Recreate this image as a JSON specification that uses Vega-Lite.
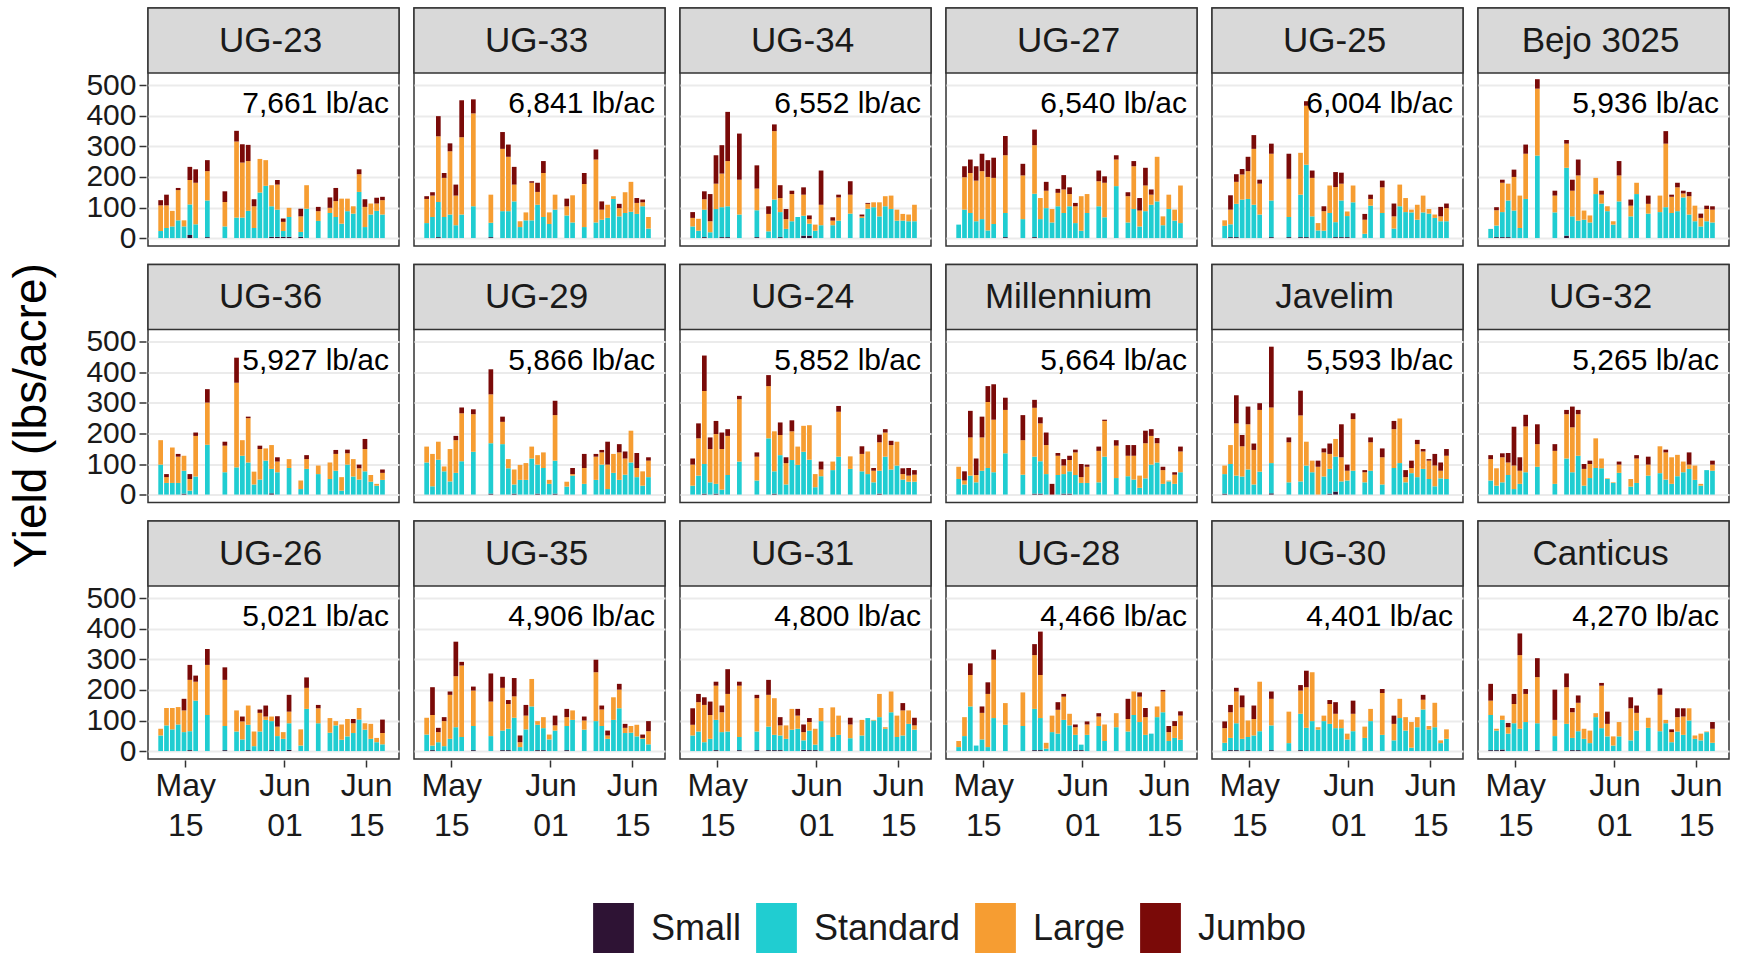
{
"$schema": "https://vega.github.io/schema/vega-lite/v6.json",
"background": "white",
"padding": {"left": 8, "top": 5, "right": 5, "bottom": 0},
"title": {"text": "Yield (lbs/acre)", "orient": "left", "anchor": "middle", "fontSize": 46, "fontWeight": "normal", "color": "#000000", "offset": 30, "dx": 64},
"data": {"values": [
{"cv":"UG-23","total":"7,661 lb/ac"},{"cv":"UG-33","total":"6,841 lb/ac"},{"cv":"UG-34","total":"6,552 lb/ac"},{"cv":"UG-27","total":"6,540 lb/ac"},{"cv":"UG-25","total":"6,004 lb/ac"},{"cv":"Bejo 3025","total":"5,936 lb/ac"},
{"cv":"UG-36","total":"5,927 lb/ac"},{"cv":"UG-29","total":"5,866 lb/ac"},{"cv":"UG-24","total":"5,852 lb/ac"},{"cv":"Millennium","total":"5,664 lb/ac"},{"cv":"Javelim","total":"5,593 lb/ac"},{"cv":"UG-32","total":"5,265 lb/ac"},
{"cv":"UG-26","total":"5,021 lb/ac"},{"cv":"UG-35","total":"4,906 lb/ac"},{"cv":"UG-31","total":"4,800 lb/ac"},{"cv":"UG-28","total":"4,466 lb/ac"},{"cv":"UG-30","total":"4,401 lb/ac"},{"cv":"Canticus","total":"4,270 lb/ac"},
{"cv":"UG-23","date":"2019-05-11","s1":0,"s2":23,"s3":84,"s4":17},
{"cv":"UG-23","date":"2019-05-12","s1":0,"s2":33,"s3":74,"s4":35},
{"cv":"UG-23","date":"2019-05-13","s1":0,"s2":38,"s3":51,"s4":0},
{"cv":"UG-23","date":"2019-05-14","s1":0,"s2":58,"s3":99,"s4":7},
{"cv":"UG-23","date":"2019-05-15","s1":0,"s2":38,"s3":20,"s4":0},
{"cv":"UG-23","date":"2019-05-16","s1":10,"s2":100,"s3":80,"s4":43},
{"cv":"UG-23","date":"2019-05-17","s1":0,"s2":45,"s3":136,"s4":44},
{"cv":"UG-23","date":"2019-05-19","s1":3,"s2":120,"s3":96,"s4":36},
{"cv":"UG-23","date":"2019-05-22","s1":0,"s2":38,"s3":80,"s4":35},
{"cv":"UG-23","date":"2019-05-24","s1":0,"s2":67,"s3":249,"s4":35},
{"cv":"UG-23","date":"2019-05-25","s1":0,"s2":67,"s3":180,"s4":60},
{"cv":"UG-23","date":"2019-05-26","s1":0,"s2":89,"s3":163,"s4":53},
{"cv":"UG-23","date":"2019-05-27","s1":0,"s2":33,"s3":71,"s4":23},
{"cv":"UG-23","date":"2019-05-28","s1":0,"s2":149,"s3":110,"s4":0},
{"cv":"UG-23","date":"2019-05-29","s1":0,"s2":171,"s3":84,"s4":0},
{"cv":"UG-23","date":"2019-05-30","s1":4,"s2":100,"s3":69,"s4":0},
{"cv":"UG-23","date":"2019-05-31","s1":4,"s2":89,"s3":82,"s4":15},
{"cv":"UG-23","date":"2019-06-01","s1":4,"s2":19,"s3":30,"s4":11},
{"cv":"UG-23","date":"2019-06-02","s1":4,"s2":65,"s3":30,"s4":0},
{"cv":"UG-23","date":"2019-06-04","s1":4,"s2":16,"s3":51,"s4":25},
{"cv":"UG-23","date":"2019-06-05","s1":0,"s2":96,"s3":77,"s4":0},
{"cv":"UG-23","date":"2019-06-07","s1":0,"s2":56,"s3":32,"s4":14},
{"cv":"UG-23","date":"2019-06-09","s1":0,"s2":82,"s3":17,"s4":34},
{"cv":"UG-23","date":"2019-06-10","s1":0,"s2":69,"s3":52,"s4":43},
{"cv":"UG-23","date":"2019-06-11","s1":0,"s2":47,"s3":82,"s4":0},
{"cv":"UG-23","date":"2019-06-12","s1":0,"s2":88,"s3":41,"s4":0},
{"cv":"UG-23","date":"2019-06-13","s1":0,"s2":80,"s3":24,"s4":0},
{"cv":"UG-23","date":"2019-06-14","s1":0,"s2":151,"s3":58,"s4":16},
{"cv":"UG-23","date":"2019-06-15","s1":0,"s2":36,"s3":66,"s4":25},
{"cv":"UG-23","date":"2019-06-16","s1":0,"s2":77,"s3":36,"s4":0},
{"cv":"UG-23","date":"2019-06-17","s1":0,"s2":89,"s3":24,"s4":19},
{"cv":"UG-23","date":"2019-06-18","s1":0,"s2":77,"s3":47,"s4":11},
{"cv":"UG-33","date":"2019-05-11","s1":0,"s2":49,"s3":79,"s4":9},
{"cv":"UG-33","date":"2019-05-12","s1":0,"s2":69,"s3":70,"s4":11},
{"cv":"UG-33","date":"2019-05-13","s1":3,"s2":115,"s3":215,"s4":66},
{"cv":"UG-33","date":"2019-05-14","s1":0,"s2":69,"s3":128,"s4":16},
{"cv":"UG-33","date":"2019-05-15","s1":0,"s2":77,"s3":207,"s4":26},
{"cv":"UG-33","date":"2019-05-16","s1":0,"s2":42,"s3":97,"s4":36},
{"cv":"UG-33","date":"2019-05-17","s1":0,"s2":77,"s3":253,"s4":121},
{"cv":"UG-33","date":"2019-05-19","s1":0,"s2":104,"s3":304,"s4":46},
{"cv":"UG-33","date":"2019-05-22","s1":3,"s2":47,"s3":92,"s4":0},
{"cv":"UG-33","date":"2019-05-24","s1":0,"s2":88,"s3":204,"s4":55},
{"cv":"UG-33","date":"2019-05-25","s1":0,"s2":88,"s3":178,"s4":40},
{"cv":"UG-33","date":"2019-05-26","s1":0,"s2":120,"s3":55,"s4":58},
{"cv":"UG-33","date":"2019-05-27","s1":0,"s2":36,"s3":19,"s4":0},
{"cv":"UG-33","date":"2019-05-28","s1":0,"s2":58,"s3":26,"s4":0},
{"cv":"UG-33","date":"2019-05-29","s1":0,"s2":58,"s3":123,"s4":5},
{"cv":"UG-33","date":"2019-05-30","s1":0,"s2":109,"s3":42,"s4":30},
{"cv":"UG-33","date":"2019-05-31","s1":0,"s2":69,"s3":144,"s4":39},
{"cv":"UG-33","date":"2019-06-01","s1":0,"s2":46,"s3":38,"s4":0},
{"cv":"UG-33","date":"2019-06-02","s1":0,"s2":93,"s3":49,"s4":0},
{"cv":"UG-33","date":"2019-06-04","s1":0,"s2":74,"s3":30,"s4":25},
{"cv":"UG-33","date":"2019-06-05","s1":0,"s2":51,"s3":89,"s4":0},
{"cv":"UG-33","date":"2019-06-07","s1":0,"s2":36,"s3":141,"s4":36},
{"cv":"UG-33","date":"2019-06-09","s1":0,"s2":51,"s3":206,"s4":33},
{"cv":"UG-33","date":"2019-06-10","s1":0,"s2":60,"s3":33,"s4":27},
{"cv":"UG-33","date":"2019-06-11","s1":0,"s2":66,"s3":43,"s4":0},
{"cv":"UG-33","date":"2019-06-12","s1":0,"s2":128,"s3":9,"s4":0},
{"cv":"UG-33","date":"2019-06-13","s1":0,"s2":71,"s3":27,"s4":14},
{"cv":"UG-33","date":"2019-06-14","s1":0,"s2":82,"s3":68,"s4":0},
{"cv":"UG-33","date":"2019-06-15","s1":0,"s2":86,"s3":98,"s4":0},
{"cv":"UG-33","date":"2019-06-16","s1":0,"s2":79,"s3":36,"s4":16},
{"cv":"UG-33","date":"2019-06-17","s1":0,"s2":104,"s3":13,"s4":9},
{"cv":"UG-33","date":"2019-06-18","s1":0,"s2":31,"s3":38,"s4":0},
{"cv":"UG-34","date":"2019-05-11","s1":0,"s2":38,"s3":28,"s4":19},
{"cv":"UG-34","date":"2019-05-12","s1":0,"s2":24,"s3":39,"s4":0},
{"cv":"UG-34","date":"2019-05-13","s1":3,"s2":90,"s3":34,"s4":26},
{"cv":"UG-34","date":"2019-05-14","s1":0,"s2":19,"s3":36,"s4":89},
{"cv":"UG-34","date":"2019-05-15","s1":0,"s2":95,"s3":83,"s4":93},
{"cv":"UG-34","date":"2019-05-16","s1":3,"s2":98,"s3":110,"s4":93},
{"cv":"UG-34","date":"2019-05-17","s1":3,"s2":101,"s3":148,"s4":161},
{"cv":"UG-34","date":"2019-05-19","s1":0,"s2":77,"s3":114,"s4":151},
{"cv":"UG-34","date":"2019-05-22","s1":3,"s2":88,"s3":71,"s4":76},
{"cv":"UG-34","date":"2019-05-24","s1":0,"s2":22,"s3":57,"s4":25},
{"cv":"UG-34","date":"2019-05-25","s1":0,"s2":126,"s3":224,"s4":22},
{"cv":"UG-34","date":"2019-05-26","s1":3,"s2":82,"s3":46,"s4":42},
{"cv":"UG-34","date":"2019-05-27","s1":0,"s2":30,"s3":32,"s4":33},
{"cv":"UG-34","date":"2019-05-28","s1":0,"s2":55,"s3":89,"s4":11},
{"cv":"UG-34","date":"2019-05-29","s1":0,"s2":69,"s3":0,"s4":0},
{"cv":"UG-34","date":"2019-05-30","s1":8,"s2":65,"s3":69,"s4":24},
{"cv":"UG-34","date":"2019-05-31","s1":8,"s2":39,"s3":15,"s4":12},
{"cv":"UG-34","date":"2019-06-01","s1":0,"s2":24,"s3":20,"s4":0},
{"cv":"UG-34","date":"2019-06-02","s1":0,"s2":42,"s3":67,"s4":112},
{"cv":"UG-34","date":"2019-06-04","s1":0,"s2":42,"s3":15,"s4":11},
{"cv":"UG-34","date":"2019-06-05","s1":0,"s2":57,"s3":76,"s4":9},
{"cv":"UG-34","date":"2019-06-07","s1":0,"s2":80,"s3":62,"s4":44},
{"cv":"UG-34","date":"2019-06-09","s1":0,"s2":66,"s3":5,"s4":6},
{"cv":"UG-34","date":"2019-06-10","s1":0,"s2":96,"s3":16,"s4":3},
{"cv":"UG-34","date":"2019-06-11","s1":0,"s2":101,"s3":16,"s4":0},
{"cv":"UG-34","date":"2019-06-12","s1":0,"s2":71,"s3":46,"s4":0},
{"cv":"UG-34","date":"2019-06-13","s1":0,"s2":104,"s3":33,"s4":0},
{"cv":"UG-34","date":"2019-06-14","s1":0,"s2":95,"s3":44,"s4":0},
{"cv":"UG-34","date":"2019-06-15","s1":0,"s2":57,"s3":36,"s4":0},
{"cv":"UG-34","date":"2019-06-16","s1":0,"s2":57,"s3":22,"s4":0},
{"cv":"UG-34","date":"2019-06-17","s1":0,"s2":55,"s3":22,"s4":0},
{"cv":"UG-34","date":"2019-06-18","s1":0,"s2":55,"s3":54,"s4":0},
{"cv":"UG-27","date":"2019-05-11","s1":0,"s2":44,"s3":0,"s4":0},
{"cv":"UG-27","date":"2019-05-12","s1":0,"s2":93,"s3":106,"s4":36},
{"cv":"UG-27","date":"2019-05-13","s1":0,"s2":82,"s3":131,"s4":44},
{"cv":"UG-27","date":"2019-05-14","s1":0,"s2":55,"s3":133,"s4":47},
{"cv":"UG-27","date":"2019-05-15","s1":0,"s2":62,"s3":157,"s4":57},
{"cv":"UG-27","date":"2019-05-16","s1":0,"s2":25,"s3":175,"s4":55},
{"cv":"UG-27","date":"2019-05-17","s1":0,"s2":46,"s3":151,"s4":66},
{"cv":"UG-27","date":"2019-05-19","s1":3,"s2":79,"s3":189,"s4":63},
{"cv":"UG-27","date":"2019-05-22","s1":0,"s2":62,"s3":143,"s4":38},
{"cv":"UG-27","date":"2019-05-24","s1":3,"s2":142,"s3":159,"s4":51},
{"cv":"UG-27","date":"2019-05-25","s1":0,"s2":62,"s3":69,"s4":0},
{"cv":"UG-27","date":"2019-05-26","s1":0,"s2":98,"s3":57,"s4":29},
{"cv":"UG-27","date":"2019-05-27","s1":0,"s2":51,"s3":44,"s4":0},
{"cv":"UG-27","date":"2019-05-28","s1":0,"s2":104,"s3":44,"s4":13},
{"cv":"UG-27","date":"2019-05-29","s1":0,"s2":82,"s3":77,"s4":47},
{"cv":"UG-27","date":"2019-05-30","s1":0,"s2":104,"s3":40,"s4":22},
{"cv":"UG-27","date":"2019-05-31","s1":0,"s2":49,"s3":55,"s4":11},
{"cv":"UG-27","date":"2019-06-01","s1":0,"s2":24,"s3":113,"s4":0},
{"cv":"UG-27","date":"2019-06-02","s1":0,"s2":82,"s3":62,"s4":0},
{"cv":"UG-27","date":"2019-06-04","s1":0,"s2":104,"s3":82,"s4":35},
{"cv":"UG-27","date":"2019-06-05","s1":0,"s2":68,"s3":113,"s4":21},
{"cv":"UG-27","date":"2019-06-07","s1":0,"s2":170,"s3":87,"s4":14},
{"cv":"UG-27","date":"2019-06-09","s1":0,"s2":51,"s3":86,"s4":13},
{"cv":"UG-27","date":"2019-06-10","s1":0,"s2":95,"s3":140,"s4":17},
{"cv":"UG-27","date":"2019-06-11","s1":0,"s2":38,"s3":52,"s4":41},
{"cv":"UG-27","date":"2019-06-12","s1":0,"s2":88,"s3":84,"s4":58},
{"cv":"UG-27","date":"2019-06-13","s1":0,"s2":109,"s3":33,"s4":17},
{"cv":"UG-27","date":"2019-06-14","s1":0,"s2":120,"s3":146,"s4":0},
{"cv":"UG-27","date":"2019-06-15","s1":0,"s2":42,"s3":29,"s4":0},
{"cv":"UG-27","date":"2019-06-16","s1":0,"s2":95,"s3":47,"s4":0},
{"cv":"UG-27","date":"2019-06-17","s1":0,"s2":57,"s3":36,"s4":0},
{"cv":"UG-27","date":"2019-06-18","s1":0,"s2":49,"s3":123,"s4":0},
{"cv":"UG-25","date":"2019-05-11","s1":0,"s2":40,"s3":18,"s4":0},
{"cv":"UG-25","date":"2019-05-12","s1":3,"s2":42,"s3":48,"s4":47},
{"cv":"UG-25","date":"2019-05-13","s1":3,"s2":109,"s3":72,"s4":25},
{"cv":"UG-25","date":"2019-05-14","s1":0,"s2":126,"s3":82,"s4":18},
{"cv":"UG-25","date":"2019-05-15","s1":0,"s2":128,"s3":91,"s4":47},
{"cv":"UG-25","date":"2019-05-16","s1":0,"s2":109,"s3":183,"s4":45},
{"cv":"UG-25","date":"2019-05-17","s1":0,"s2":77,"s3":101,"s4":13},
{"cv":"UG-25","date":"2019-05-19","s1":3,"s2":120,"s3":153,"s4":33},
{"cv":"UG-25","date":"2019-05-22","s1":3,"s2":66,"s3":125,"s4":82},
{"cv":"UG-25","date":"2019-05-24","s1":3,"s2":139,"s3":137,"s4":0},
{"cv":"UG-25","date":"2019-05-25","s1":3,"s2":237,"s3":193,"s4":15},
{"cv":"UG-25","date":"2019-05-26","s1":0,"s2":71,"s3":126,"s4":24},
{"cv":"UG-25","date":"2019-05-27","s1":0,"s2":25,"s3":24,"s4":0},
{"cv":"UG-25","date":"2019-05-28","s1":0,"s2":24,"s3":64,"s4":16},
{"cv":"UG-25","date":"2019-05-29","s1":0,"s2":82,"s3":90,"s4":0},
{"cv":"UG-25","date":"2019-05-30","s1":3,"s2":49,"s3":115,"s4":49},
{"cv":"UG-25","date":"2019-05-31","s1":3,"s2":120,"s3":55,"s4":36},
{"cv":"UG-25","date":"2019-06-01","s1":3,"s2":69,"s3":15,"s4":0},
{"cv":"UG-25","date":"2019-06-02","s1":0,"s2":117,"s3":55,"s4":0},
{"cv":"UG-25","date":"2019-06-04","s1":0,"s2":14,"s3":46,"s4":19},
{"cv":"UG-25","date":"2019-06-05","s1":0,"s2":106,"s3":22,"s4":14},
{"cv":"UG-25","date":"2019-06-07","s1":0,"s2":82,"s3":84,"s4":22},
{"cv":"UG-25","date":"2019-06-09","s1":0,"s2":31,"s3":40,"s4":42},
{"cv":"UG-25","date":"2019-06-10","s1":0,"s2":104,"s3":71,"s4":0},
{"cv":"UG-25","date":"2019-06-11","s1":0,"s2":85,"s3":46,"s4":0},
{"cv":"UG-25","date":"2019-06-12","s1":0,"s2":84,"s3":9,"s4":0},
{"cv":"UG-25","date":"2019-06-13","s1":0,"s2":60,"s3":49,"s4":0},
{"cv":"UG-25","date":"2019-06-14","s1":0,"s2":84,"s3":55,"s4":0},
{"cv":"UG-25","date":"2019-06-15","s1":0,"s2":80,"s3":15,"s4":0},
{"cv":"UG-25","date":"2019-06-16","s1":0,"s2":66,"s3":11,"s4":0},
{"cv":"UG-25","date":"2019-06-17","s1":0,"s2":55,"s3":16,"s4":31},
{"cv":"UG-25","date":"2019-06-18","s1":0,"s2":55,"s3":43,"s4":15},
{"cv":"Bejo 3025","date":"2019-05-11","s1":0,"s2":30,"s3":0,"s4":0},
{"cv":"Bejo 3025","date":"2019-05-12","s1":3,"s2":38,"s3":50,"s4":10},
{"cv":"Bejo 3025","date":"2019-05-13","s1":3,"s2":82,"s3":96,"s4":10},
{"cv":"Bejo 3025","date":"2019-05-14","s1":3,"s2":120,"s3":55,"s4":0},
{"cv":"Bejo 3025","date":"2019-05-15","s1":0,"s2":90,"s3":110,"s4":24},
{"cv":"Bejo 3025","date":"2019-05-16","s1":0,"s2":33,"s3":106,"s4":0},
{"cv":"Bejo 3025","date":"2019-05-17","s1":0,"s2":128,"s3":148,"s4":30},
{"cv":"Bejo 3025","date":"2019-05-19","s1":0,"s2":270,"s3":219,"s4":31},
{"cv":"Bejo 3025","date":"2019-05-22","s1":0,"s2":84,"s3":55,"s4":16},
{"cv":"Bejo 3025","date":"2019-05-24","s1":8,"s2":222,"s3":79,"s4":12},
{"cv":"Bejo 3025","date":"2019-05-25","s1":0,"s2":71,"s3":84,"s4":36},
{"cv":"Bejo 3025","date":"2019-05-26","s1":0,"s2":57,"s3":148,"s4":52},
{"cv":"Bejo 3025","date":"2019-05-27","s1":0,"s2":60,"s3":30,"s4":0},
{"cv":"Bejo 3025","date":"2019-05-28","s1":0,"s2":51,"s3":23,"s4":0},
{"cv":"Bejo 3025","date":"2019-05-29","s1":0,"s2":144,"s3":53,"s4":0},
{"cv":"Bejo 3025","date":"2019-05-30","s1":0,"s2":113,"s3":29,"s4":13},
{"cv":"Bejo 3025","date":"2019-05-31","s1":0,"s2":88,"s3":16,"s4":0},
{"cv":"Bejo 3025","date":"2019-06-01","s1":0,"s2":44,"s3":11,"s4":0},
{"cv":"Bejo 3025","date":"2019-06-02","s1":0,"s2":120,"s3":85,"s4":47},
{"cv":"Bejo 3025","date":"2019-06-04","s1":0,"s2":71,"s3":35,"s4":20},
{"cv":"Bejo 3025","date":"2019-06-05","s1":0,"s2":144,"s3":37,"s4":0},
{"cv":"Bejo 3025","date":"2019-06-07","s1":0,"s2":80,"s3":32,"s4":27},
{"cv":"Bejo 3025","date":"2019-06-09","s1":0,"s2":85,"s3":54,"s4":0},
{"cv":"Bejo 3025","date":"2019-06-10","s1":0,"s2":101,"s3":208,"s4":41},
{"cv":"Bejo 3025","date":"2019-06-11","s1":0,"s2":82,"s3":53,"s4":7},
{"cv":"Bejo 3025","date":"2019-06-12","s1":0,"s2":88,"s3":78,"s4":15},
{"cv":"Bejo 3025","date":"2019-06-13","s1":0,"s2":133,"s3":13,"s4":9},
{"cv":"Bejo 3025","date":"2019-06-14","s1":0,"s2":77,"s3":60,"s4":14},
{"cv":"Bejo 3025","date":"2019-06-15","s1":0,"s2":55,"s3":51,"s4":0},
{"cv":"Bejo 3025","date":"2019-06-16","s1":0,"s2":38,"s3":28,"s4":14},
{"cv":"Bejo 3025","date":"2019-06-17","s1":0,"s2":55,"s3":40,"s4":11},
{"cv":"Bejo 3025","date":"2019-06-18","s1":0,"s2":51,"s3":42,"s4":11},
{"cv":"UG-36","date":"2019-05-11","s1":0,"s2":98,"s3":80,"s4":0},
{"cv":"UG-36","date":"2019-05-12","s1":0,"s2":38,"s3":19,"s4":10},
{"cv":"UG-36","date":"2019-05-13","s1":0,"s2":38,"s3":116,"s4":0},
{"cv":"UG-36","date":"2019-05-14","s1":0,"s2":38,"s3":86,"s4":9},
{"cv":"UG-36","date":"2019-05-15","s1":3,"s2":75,"s3":49,"s4":0},
{"cv":"UG-36","date":"2019-05-16","s1":0,"s2":13,"s3":38,"s4":16},
{"cv":"UG-36","date":"2019-05-17","s1":0,"s2":59,"s3":133,"s4":11},
{"cv":"UG-36","date":"2019-05-19","s1":0,"s2":163,"s3":138,"s4":44},
{"cv":"UG-36","date":"2019-05-22","s1":0,"s2":73,"s3":87,"s4":13},
{"cv":"UG-36","date":"2019-05-24","s1":0,"s2":89,"s3":277,"s4":82},
{"cv":"UG-36","date":"2019-05-25","s1":0,"s2":127,"s3":51,"s4":0},
{"cv":"UG-36","date":"2019-05-26","s1":0,"s2":105,"s3":145,"s4":5},
{"cv":"UG-36","date":"2019-05-27","s1":0,"s2":33,"s3":42,"s4":0},
{"cv":"UG-36","date":"2019-05-28","s1":0,"s2":49,"s3":100,"s4":11},
{"cv":"UG-36","date":"2019-05-29","s1":0,"s2":111,"s3":40,"s4":0},
{"cv":"UG-36","date":"2019-05-30","s1":4,"s2":80,"s3":78,"s4":0},
{"cv":"UG-36","date":"2019-05-31","s1":0,"s2":73,"s3":35,"s4":14},
{"cv":"UG-36","date":"2019-06-02","s1":0,"s2":87,"s3":29,"s4":0},
{"cv":"UG-36","date":"2019-06-04","s1":0,"s2":18,"s3":28,"s4":0},
{"cv":"UG-36","date":"2019-06-05","s1":0,"s2":84,"s3":32,"s4":13},
{"cv":"UG-36","date":"2019-06-07","s1":0,"s2":67,"s3":28,"s4":0},
{"cv":"UG-36","date":"2019-06-09","s1":0,"s2":51,"s3":54,"s4":0},
{"cv":"UG-36","date":"2019-06-10","s1":0,"s2":78,"s3":55,"s4":13},
{"cv":"UG-36","date":"2019-06-11","s1":0,"s2":13,"s3":44,"s4":0},
{"cv":"UG-36","date":"2019-06-12","s1":0,"s2":98,"s3":37,"s4":12},
{"cv":"UG-36","date":"2019-06-13","s1":0,"s2":59,"s3":57,"s4":0},
{"cv":"UG-36","date":"2019-06-14","s1":0,"s2":49,"s3":37,"s4":12},
{"cv":"UG-36","date":"2019-06-15","s1":0,"s2":76,"s3":73,"s4":33},
{"cv":"UG-36","date":"2019-06-16","s1":0,"s2":42,"s3":22,"s4":0},
{"cv":"UG-36","date":"2019-06-17","s1":0,"s2":29,"s3":6,"s4":0},
{"cv":"UG-36","date":"2019-06-18","s1":0,"s2":48,"s3":23,"s4":11},
{"cv":"UG-29","date":"2019-05-11","s1":0,"s2":105,"s3":52,"s4":0},
{"cv":"UG-29","date":"2019-05-12","s1":0,"s2":27,"s3":106,"s4":0},
{"cv":"UG-29","date":"2019-05-13","s1":0,"s2":114,"s3":59,"s4":0},
{"cv":"UG-29","date":"2019-05-14","s1":0,"s2":76,"s3":16,"s4":0},
{"cv":"UG-29","date":"2019-05-15","s1":0,"s2":43,"s3":106,"s4":0},
{"cv":"UG-29","date":"2019-05-16","s1":0,"s2":71,"s3":107,"s4":14},
{"cv":"UG-29","date":"2019-05-17","s1":0,"s2":109,"s3":157,"s4":19},
{"cv":"UG-29","date":"2019-05-19","s1":0,"s2":140,"s3":123,"s4":16},
{"cv":"UG-29","date":"2019-05-22","s1":3,"s2":165,"s3":160,"s4":82},
{"cv":"UG-29","date":"2019-05-24","s1":0,"s2":165,"s3":73,"s4":17},
{"cv":"UG-29","date":"2019-05-25","s1":0,"s2":86,"s3":30,"s4":0},
{"cv":"UG-29","date":"2019-05-26","s1":3,"s2":30,"s3":49,"s4":0},
{"cv":"UG-29","date":"2019-05-27","s1":0,"s2":48,"s3":49,"s4":0},
{"cv":"UG-29","date":"2019-05-28","s1":0,"s2":48,"s3":55,"s4":0},
{"cv":"UG-29","date":"2019-05-29","s1":0,"s2":118,"s3":39,"s4":0},
{"cv":"UG-29","date":"2019-05-30","s1":3,"s2":95,"s3":31,"s4":0},
{"cv":"UG-29","date":"2019-05-31","s1":0,"s2":87,"s3":51,"s4":0},
{"cv":"UG-29","date":"2019-06-01","s1":0,"s2":35,"s3":13,"s4":0},
{"cv":"UG-29","date":"2019-06-02","s1":3,"s2":108,"s3":149,"s4":47},
{"cv":"UG-29","date":"2019-06-04","s1":0,"s2":26,"s3":16,"s4":0},
{"cv":"UG-29","date":"2019-06-05","s1":0,"s2":62,"s3":5,"s4":20},
{"cv":"UG-29","date":"2019-06-07","s1":0,"s2":35,"s3":52,"s4":46},
{"cv":"UG-29","date":"2019-06-09","s1":0,"s2":48,"s3":76,"s4":9},
{"cv":"UG-29","date":"2019-06-10","s1":0,"s2":98,"s3":40,"s4":8},
{"cv":"UG-29","date":"2019-06-11","s1":0,"s2":18,"s3":80,"s4":75},
{"cv":"UG-29","date":"2019-06-12","s1":0,"s2":71,"s3":62,"s4":0},
{"cv":"UG-29","date":"2019-06-13","s1":0,"s2":48,"s3":90,"s4":27},
{"cv":"UG-29","date":"2019-06-14","s1":0,"s2":65,"s3":53,"s4":23},
{"cv":"UG-29","date":"2019-06-15","s1":0,"s2":105,"s3":104,"s4":0},
{"cv":"UG-29","date":"2019-06-16","s1":0,"s2":57,"s3":30,"s4":49},
{"cv":"UG-29","date":"2019-06-17","s1":0,"s2":29,"s3":47,"s4":0},
{"cv":"UG-29","date":"2019-06-18","s1":0,"s2":57,"s3":54,"s4":11},
{"cv":"UG-24","date":"2019-05-11","s1":0,"s2":29,"s3":69,"s4":20},
{"cv":"UG-24","date":"2019-05-12","s1":0,"s2":62,"s3":122,"s4":49},
{"cv":"UG-24","date":"2019-05-13","s1":3,"s2":97,"s3":239,"s4":116},
{"cv":"UG-24","date":"2019-05-14","s1":0,"s2":40,"s3":109,"s4":38},
{"cv":"UG-24","date":"2019-05-15","s1":3,"s2":32,"s3":163,"s4":43},
{"cv":"UG-24","date":"2019-05-16","s1":0,"s2":16,"s3":133,"s4":54},
{"cv":"UG-24","date":"2019-05-17","s1":0,"s2":64,"s3":128,"s4":22},
{"cv":"UG-24","date":"2019-05-19","s1":0,"s2":108,"s3":204,"s4":11},
{"cv":"UG-24","date":"2019-05-22","s1":0,"s2":46,"s3":78,"s4":14},
{"cv":"UG-24","date":"2019-05-24","s1":0,"s2":184,"s3":171,"s4":36},
{"cv":"UG-24","date":"2019-05-25","s1":3,"s2":73,"s3":131,"s4":0},
{"cv":"UG-24","date":"2019-05-26","s1":0,"s2":129,"s3":66,"s4":41},
{"cv":"UG-24","date":"2019-05-27","s1":0,"s2":33,"s3":70,"s4":19},
{"cv":"UG-24","date":"2019-05-28","s1":0,"s2":113,"s3":94,"s4":36},
{"cv":"UG-24","date":"2019-05-29","s1":0,"s2":97,"s3":60,"s4":0},
{"cv":"UG-24","date":"2019-05-30","s1":0,"s2":140,"s3":85,"s4":0},
{"cv":"UG-24","date":"2019-05-31","s1":0,"s2":114,"s3":113,"s4":0},
{"cv":"UG-24","date":"2019-06-01","s1":0,"s2":24,"s3":43,"s4":0},
{"cv":"UG-24","date":"2019-06-02","s1":0,"s2":60,"s3":22,"s4":26},
{"cv":"UG-24","date":"2019-06-04","s1":0,"s2":80,"s3":28,"s4":0},
{"cv":"UG-24","date":"2019-06-05","s1":0,"s2":124,"s3":147,"s4":19},
{"cv":"UG-24","date":"2019-06-07","s1":0,"s2":84,"s3":41,"s4":0},
{"cv":"UG-24","date":"2019-06-09","s1":0,"s2":76,"s3":57,"s4":25},
{"cv":"UG-24","date":"2019-06-10","s1":0,"s2":67,"s3":74,"s4":0},
{"cv":"UG-24","date":"2019-06-11","s1":0,"s2":40,"s3":38,"s4":9},
{"cv":"UG-24","date":"2019-06-12","s1":3,"s2":75,"s3":93,"s4":25},
{"cv":"UG-24","date":"2019-06-13","s1":0,"s2":124,"s3":79,"s4":11},
{"cv":"UG-24","date":"2019-06-14","s1":0,"s2":82,"s3":80,"s4":14},
{"cv":"UG-24","date":"2019-06-15","s1":0,"s2":95,"s3":78,"s4":0},
{"cv":"UG-24","date":"2019-06-16","s1":0,"s2":49,"s3":18,"s4":19},
{"cv":"UG-24","date":"2019-06-17","s1":0,"s2":42,"s3":20,"s4":25},
{"cv":"UG-24","date":"2019-06-18","s1":0,"s2":42,"s3":23,"s4":15},
{"cv":"Millennium","date":"2019-05-11","s1":0,"s2":51,"s3":40,"s4":0},
{"cv":"Millennium","date":"2019-05-12","s1":0,"s2":33,"s3":13,"s4":30},
{"cv":"Millennium","date":"2019-05-13","s1":0,"s2":62,"s3":125,"s4":87},
{"cv":"Millennium","date":"2019-05-14","s1":0,"s2":40,"s3":24,"s4":54},
{"cv":"Millennium","date":"2019-05-15","s1":0,"s2":78,"s3":109,"s4":68},
{"cv":"Millennium","date":"2019-05-16","s1":0,"s2":87,"s3":216,"s4":52},
{"cv":"Millennium","date":"2019-05-17","s1":0,"s2":73,"s3":172,"s4":116},
{"cv":"Millennium","date":"2019-05-19","s1":0,"s2":135,"s3":142,"s4":40},
{"cv":"Millennium","date":"2019-05-22","s1":0,"s2":65,"s3":113,"s4":82},
{"cv":"Millennium","date":"2019-05-24","s1":3,"s2":121,"s3":160,"s4":26},
{"cv":"Millennium","date":"2019-05-25","s1":3,"s2":106,"s3":124,"s4":20},
{"cv":"Millennium","date":"2019-05-26","s1":0,"s2":67,"s3":95,"s4":41},
{"cv":"Millennium","date":"2019-05-27","s1":0,"s2":0,"s3":0,"s4":35},
{"cv":"Millennium","date":"2019-05-28","s1":0,"s2":64,"s3":63,"s4":9},
{"cv":"Millennium","date":"2019-05-29","s1":3,"s2":64,"s3":28,"s4":21},
{"cv":"Millennium","date":"2019-05-30","s1":3,"s2":73,"s3":37,"s4":14},
{"cv":"Millennium","date":"2019-05-31","s1":0,"s2":64,"s3":74,"s4":9},
{"cv":"Millennium","date":"2019-06-01","s1":0,"s2":38,"s3":19,"s4":43},
{"cv":"Millennium","date":"2019-06-02","s1":0,"s2":38,"s3":53,"s4":7},
{"cv":"Millennium","date":"2019-06-04","s1":0,"s2":40,"s3":103,"s4":14},
{"cv":"Millennium","date":"2019-06-05","s1":0,"s2":124,"s3":117,"s4":4},
{"cv":"Millennium","date":"2019-06-07","s1":0,"s2":54,"s3":106,"s4":18},
{"cv":"Millennium","date":"2019-06-09","s1":0,"s2":60,"s3":67,"s4":35},
{"cv":"Millennium","date":"2019-06-10","s1":0,"s2":49,"s3":78,"s4":35},
{"cv":"Millennium","date":"2019-06-11","s1":0,"s2":22,"s3":40,"s4":0},
{"cv":"Millennium","date":"2019-06-12","s1":0,"s2":53,"s3":115,"s4":41},
{"cv":"Millennium","date":"2019-06-13","s1":0,"s2":98,"s3":94,"s4":22},
{"cv":"Millennium","date":"2019-06-14","s1":0,"s2":105,"s3":63,"s4":17},
{"cv":"Millennium","date":"2019-06-15","s1":0,"s2":35,"s3":45,"s4":11},
{"cv":"Millennium","date":"2019-06-16","s1":0,"s2":43,"s3":3,"s4":0},
{"cv":"Millennium","date":"2019-06-17","s1":0,"s2":35,"s3":30,"s4":8},
{"cv":"Millennium","date":"2019-06-18","s1":0,"s2":73,"s3":68,"s4":16},
{"cv":"Javelim","date":"2019-05-11","s1":3,"s2":64,"s3":28,"s4":0},
{"cv":"Javelim","date":"2019-05-12","s1":0,"s2":100,"s3":62,"s4":0},
{"cv":"Javelim","date":"2019-05-13","s1":0,"s2":62,"s3":171,"s4":92},
{"cv":"Javelim","date":"2019-05-14","s1":0,"s2":59,"s3":99,"s4":37},
{"cv":"Javelim","date":"2019-05-15","s1":0,"s2":82,"s3":148,"s4":58},
{"cv":"Javelim","date":"2019-05-16","s1":0,"s2":33,"s3":113,"s4":21},
{"cv":"Javelim","date":"2019-05-17","s1":0,"s2":75,"s3":202,"s4":22},
{"cv":"Javelim","date":"2019-05-19","s1":4,"s2":99,"s3":182,"s4":199},
{"cv":"Javelim","date":"2019-05-22","s1":0,"s2":40,"s3":131,"s4":16},
{"cv":"Javelim","date":"2019-05-24","s1":0,"s2":43,"s3":216,"s4":81},
{"cv":"Javelim","date":"2019-05-25","s1":0,"s2":95,"s3":78,"s4":0},
{"cv":"Javelim","date":"2019-05-26","s1":0,"s2":73,"s3":38,"s4":0},
{"cv":"Javelim","date":"2019-05-27","s1":0,"s2":0,"s3":91,"s4":20},
{"cv":"Javelim","date":"2019-05-28","s1":0,"s2":59,"s3":79,"s4":13},
{"cv":"Javelim","date":"2019-05-29","s1":3,"s2":81,"s3":49,"s4":34},
{"cv":"Javelim","date":"2019-05-30","s1":10,"s2":114,"s3":58,"s4":0},
{"cv":"Javelim","date":"2019-05-31","s1":0,"s2":43,"s3":79,"s4":108},
{"cv":"Javelim","date":"2019-06-01","s1":0,"s2":46,"s3":32,"s4":20},
{"cv":"Javelim","date":"2019-06-02","s1":0,"s2":78,"s3":169,"s4":19},
{"cv":"Javelim","date":"2019-06-04","s1":0,"s2":40,"s3":33,"s4":7},
{"cv":"Javelim","date":"2019-06-05","s1":0,"s2":78,"s3":93,"s4":16},
{"cv":"Javelim","date":"2019-06-07","s1":0,"s2":33,"s3":89,"s4":29},
{"cv":"Javelim","date":"2019-06-09","s1":0,"s2":87,"s3":127,"s4":27},
{"cv":"Javelim","date":"2019-06-10","s1":0,"s2":103,"s3":146,"s4":0},
{"cv":"Javelim","date":"2019-06-11","s1":0,"s2":40,"s3":17,"s4":23},
{"cv":"Javelim","date":"2019-06-12","s1":0,"s2":70,"s3":17,"s4":24},
{"cv":"Javelim","date":"2019-06-13","s1":0,"s2":57,"s3":108,"s4":14},
{"cv":"Javelim","date":"2019-06-14","s1":0,"s2":84,"s3":57,"s4":8},
{"cv":"Javelim","date":"2019-06-15","s1":0,"s2":51,"s3":60,"s4":5},
{"cv":"Javelim","date":"2019-06-16","s1":0,"s2":27,"s3":68,"s4":38},
{"cv":"Javelim","date":"2019-06-17","s1":0,"s2":53,"s3":25,"s4":27},
{"cv":"Javelim","date":"2019-06-18","s1":0,"s2":51,"s3":76,"s4":22},
{"cv":"UG-32","date":"2019-05-11","s1":0,"s2":46,"s3":70,"s4":13},
{"cv":"UG-32","date":"2019-05-12","s1":0,"s2":29,"s3":57,"s4":0},
{"cv":"UG-32","date":"2019-05-13","s1":0,"s2":40,"s3":82,"s4":13},
{"cv":"UG-32","date":"2019-05-14","s1":0,"s2":64,"s3":41,"s4":31},
{"cv":"UG-32","date":"2019-05-15","s1":0,"s2":18,"s3":77,"s4":127},
{"cv":"UG-32","date":"2019-05-16","s1":0,"s2":35,"s3":43,"s4":44},
{"cv":"UG-32","date":"2019-05-17","s1":0,"s2":73,"s3":150,"s4":38},
{"cv":"UG-32","date":"2019-05-19","s1":0,"s2":91,"s3":74,"s4":65},
{"cv":"UG-32","date":"2019-05-22","s1":0,"s2":35,"s3":108,"s4":22},
{"cv":"UG-32","date":"2019-05-24","s1":0,"s2":118,"s3":145,"s4":14},
{"cv":"UG-32","date":"2019-05-25","s1":0,"s2":73,"s3":147,"s4":68},
{"cv":"UG-32","date":"2019-05-26","s1":0,"s2":127,"s3":136,"s4":14},
{"cv":"UG-32","date":"2019-05-27","s1":0,"s2":29,"s3":55,"s4":16},
{"cv":"UG-32","date":"2019-05-28","s1":0,"s2":54,"s3":46,"s4":11},
{"cv":"UG-32","date":"2019-05-29","s1":0,"s2":87,"s3":97,"s4":0},
{"cv":"UG-32","date":"2019-05-30","s1":0,"s2":86,"s3":32,"s4":0},
{"cv":"UG-32","date":"2019-05-31","s1":0,"s2":51,"s3":2,"s4":0},
{"cv":"UG-32","date":"2019-06-01","s1":0,"s2":38,"s3":2,"s4":0},
{"cv":"UG-32","date":"2019-06-02","s1":0,"s2":71,"s3":27,"s4":10},
{"cv":"UG-32","date":"2019-06-04","s1":0,"s2":26,"s3":25,"s4":0},
{"cv":"UG-32","date":"2019-06-05","s1":0,"s2":38,"s3":80,"s4":11},
{"cv":"UG-32","date":"2019-06-07","s1":0,"s2":62,"s3":36,"s4":26},
{"cv":"UG-32","date":"2019-06-09","s1":0,"s2":70,"s3":88,"s4":0},
{"cv":"UG-32","date":"2019-06-10","s1":0,"s2":49,"s3":89,"s4":9},
{"cv":"UG-32","date":"2019-06-11","s1":0,"s2":35,"s3":87,"s4":0},
{"cv":"UG-32","date":"2019-06-12","s1":0,"s2":60,"s3":70,"s4":0},
{"cv":"UG-32","date":"2019-06-13","s1":0,"s2":73,"s3":35,"s4":0},
{"cv":"UG-32","date":"2019-06-14","s1":0,"s2":84,"s3":14,"s4":40},
{"cv":"UG-32","date":"2019-06-15","s1":0,"s2":48,"s3":47,"s4":0},
{"cv":"UG-32","date":"2019-06-16","s1":0,"s2":29,"s3":6,"s4":0},
{"cv":"UG-32","date":"2019-06-17","s1":0,"s2":80,"s3":0,"s4":0},
{"cv":"UG-32","date":"2019-06-18","s1":0,"s2":78,"s3":20,"s4":13},
{"cv":"UG-26","date":"2019-05-11","s1":0,"s2":51,"s3":22,"s4":0},
{"cv":"UG-26","date":"2019-05-12","s1":0,"s2":84,"s3":57,"s4":0},
{"cv":"UG-26","date":"2019-05-13","s1":0,"s2":71,"s3":70,"s4":0},
{"cv":"UG-26","date":"2019-05-14","s1":0,"s2":87,"s3":57,"s4":0},
{"cv":"UG-26","date":"2019-05-15","s1":0,"s2":62,"s3":71,"s4":38},
{"cv":"UG-26","date":"2019-05-16","s1":3,"s2":62,"s3":168,"s4":49},
{"cv":"UG-26","date":"2019-05-17","s1":0,"s2":165,"s3":62,"s4":20},
{"cv":"UG-26","date":"2019-05-19","s1":0,"s2":118,"s3":164,"s4":52},
{"cv":"UG-26","date":"2019-05-22","s1":3,"s2":79,"s3":151,"s4":41},
{"cv":"UG-26","date":"2019-05-24","s1":0,"s2":64,"s3":69,"s4":0},
{"cv":"UG-26","date":"2019-05-25","s1":0,"s2":38,"s3":59,"s4":16},
{"cv":"UG-26","date":"2019-05-26","s1":3,"s2":83,"s3":63,"s4":0},
{"cv":"UG-26","date":"2019-05-27","s1":0,"s2":16,"s3":48,"s4":0},
{"cv":"UG-26","date":"2019-05-28","s1":0,"s2":64,"s3":61,"s4":11},
{"cv":"UG-26","date":"2019-05-29","s1":0,"s2":102,"s3":11,"s4":36},
{"cv":"UG-26","date":"2019-05-30","s1":3,"s2":95,"s3":15,"s4":0},
{"cv":"UG-26","date":"2019-05-31","s1":0,"s2":49,"s3":31,"s4":34},
{"cv":"UG-26","date":"2019-06-01","s1":0,"s2":40,"s3":22,"s4":0},
{"cv":"UG-26","date":"2019-06-02","s1":4,"s2":87,"s3":38,"s4":55},
{"cv":"UG-26","date":"2019-06-04","s1":0,"s2":18,"s3":53,"s4":0},
{"cv":"UG-26","date":"2019-06-05","s1":0,"s2":138,"s3":69,"s4":34},
{"cv":"UG-26","date":"2019-06-07","s1":0,"s2":91,"s3":49,"s4":11},
{"cv":"UG-26","date":"2019-06-09","s1":0,"s2":60,"s3":48,"s4":0},
{"cv":"UG-26","date":"2019-06-10","s1":0,"s2":84,"s3":14,"s4":0},
{"cv":"UG-26","date":"2019-06-11","s1":0,"s2":37,"s3":50,"s4":0},
{"cv":"UG-26","date":"2019-06-12","s1":0,"s2":48,"s3":57,"s4":0},
{"cv":"UG-26","date":"2019-06-13","s1":0,"s2":59,"s3":32,"s4":14},
{"cv":"UG-26","date":"2019-06-14","s1":0,"s2":103,"s3":38,"s4":0},
{"cv":"UG-26","date":"2019-06-15","s1":0,"s2":70,"s3":21,"s4":0},
{"cv":"UG-26","date":"2019-06-16","s1":0,"s2":40,"s3":49,"s4":0},
{"cv":"UG-26","date":"2019-06-17","s1":0,"s2":29,"s3":14,"s4":0},
{"cv":"UG-26","date":"2019-06-18","s1":0,"s2":22,"s3":37,"s4":44},
{"cv":"UG-35","date":"2019-05-11","s1":0,"s2":54,"s3":55,"s4":0},
{"cv":"UG-35","date":"2019-05-12","s1":3,"s2":15,"s3":100,"s4":91},
{"cv":"UG-35","date":"2019-05-13","s1":0,"s2":29,"s3":33,"s4":14},
{"cv":"UG-35","date":"2019-05-14","s1":0,"s2":16,"s3":82,"s4":13},
{"cv":"UG-35","date":"2019-05-15","s1":0,"s2":40,"s3":144,"s4":11},
{"cv":"UG-35","date":"2019-05-16","s1":0,"s2":78,"s3":167,"s4":113},
{"cv":"UG-35","date":"2019-05-17","s1":0,"s2":46,"s3":234,"s4":12},
{"cv":"UG-35","date":"2019-05-19","s1":3,"s2":79,"s3":116,"s4":13},
{"cv":"UG-35","date":"2019-05-22","s1":0,"s2":49,"s3":113,"s4":92},
{"cv":"UG-35","date":"2019-05-24","s1":3,"s2":64,"s3":140,"s4":36},
{"cv":"UG-35","date":"2019-05-25","s1":3,"s2":70,"s3":81,"s4":13},
{"cv":"UG-35","date":"2019-05-26","s1":0,"s2":109,"s3":70,"s4":60},
{"cv":"UG-35","date":"2019-05-27","s1":0,"s2":13,"s3":16,"s4":22},
{"cv":"UG-35","date":"2019-05-28","s1":0,"s2":71,"s3":45,"s4":35},
{"cv":"UG-35","date":"2019-05-29","s1":0,"s2":146,"s3":90,"s4":0},
{"cv":"UG-35","date":"2019-05-30","s1":3,"s2":83,"s3":12,"s4":0},
{"cv":"UG-35","date":"2019-05-31","s1":3,"s2":72,"s3":36,"s4":0},
{"cv":"UG-35","date":"2019-06-01","s1":0,"s2":38,"s3":16,"s4":0},
{"cv":"UG-35","date":"2019-06-02","s1":0,"s2":67,"s3":17,"s4":32},
{"cv":"UG-35","date":"2019-06-04","s1":3,"s2":79,"s3":29,"s4":27},
{"cv":"UG-35","date":"2019-06-05","s1":0,"s2":102,"s3":31,"s4":0},
{"cv":"UG-35","date":"2019-06-07","s1":0,"s2":70,"s3":30,"s4":13},
{"cv":"UG-35","date":"2019-06-09","s1":0,"s2":98,"s3":160,"s4":41},
{"cv":"UG-35","date":"2019-06-10","s1":0,"s2":82,"s3":54,"s4":13},
{"cv":"UG-35","date":"2019-06-11","s1":0,"s2":40,"s3":11,"s4":16},
{"cv":"UG-35","date":"2019-06-12","s1":0,"s2":102,"s3":74,"s4":0},
{"cv":"UG-35","date":"2019-06-13","s1":0,"s2":140,"s3":61,"s4":19},
{"cv":"UG-35","date":"2019-06-14","s1":0,"s2":59,"s3":17,"s4":13},
{"cv":"UG-35","date":"2019-06-15","s1":0,"s2":60,"s3":22,"s4":0},
{"cv":"UG-35","date":"2019-06-16","s1":0,"s2":48,"s3":38,"s4":0},
{"cv":"UG-35","date":"2019-06-17","s1":0,"s2":40,"s3":3,"s4":11},
{"cv":"UG-35","date":"2019-06-18","s1":0,"s2":22,"s3":43,"s4":33},
{"cv":"UG-31","date":"2019-05-11","s1":0,"s2":51,"s3":35,"s4":54},
{"cv":"UG-31","date":"2019-05-12","s1":0,"s2":64,"s3":96,"s4":27},
{"cv":"UG-31","date":"2019-05-13","s1":0,"s2":29,"s3":122,"s4":25},
{"cv":"UG-31","date":"2019-05-14","s1":0,"s2":40,"s3":78,"s4":44},
{"cv":"UG-31","date":"2019-05-15","s1":3,"s2":99,"s3":112,"s4":13},
{"cv":"UG-31","date":"2019-05-16","s1":0,"s2":62,"s3":65,"s4":22},
{"cv":"UG-31","date":"2019-05-17","s1":0,"s2":64,"s3":123,"s4":81},
{"cv":"UG-31","date":"2019-05-19","s1":3,"s2":43,"s3":168,"s4":13},
{"cv":"UG-31","date":"2019-05-22","s1":3,"s2":61,"s3":109,"s4":11},
{"cv":"UG-31","date":"2019-05-24","s1":3,"s2":77,"s3":104,"s4":49},
{"cv":"UG-31","date":"2019-05-25","s1":3,"s2":50,"s3":120,"s4":0},
{"cv":"UG-31","date":"2019-05-26","s1":3,"s2":48,"s3":33,"s4":27},
{"cv":"UG-31","date":"2019-05-27","s1":0,"s2":40,"s3":44,"s4":0},
{"cv":"UG-31","date":"2019-05-28","s1":0,"s2":70,"s3":68,"s4":0},
{"cv":"UG-31","date":"2019-05-29","s1":0,"s2":73,"s3":43,"s4":22},
{"cv":"UG-31","date":"2019-05-30","s1":4,"s2":31,"s3":27,"s4":25},
{"cv":"UG-31","date":"2019-05-31","s1":3,"s2":64,"s3":28,"s4":13},
{"cv":"UG-31","date":"2019-06-01","s1":3,"s2":18,"s3":52,"s4":0},
{"cv":"UG-31","date":"2019-06-02","s1":0,"s2":98,"s3":43,"s4":0},
{"cv":"UG-31","date":"2019-06-04","s1":0,"s2":46,"s3":97,"s4":0},
{"cv":"UG-31","date":"2019-06-05","s1":0,"s2":53,"s3":63,"s4":0},
{"cv":"UG-31","date":"2019-06-07","s1":0,"s2":42,"s3":45,"s4":22},
{"cv":"UG-31","date":"2019-06-09","s1":0,"s2":51,"s3":51,"s4":0},
{"cv":"UG-31","date":"2019-06-10","s1":0,"s2":108,"s3":0,"s4":0},
{"cv":"UG-31","date":"2019-06-11","s1":0,"s2":100,"s3":2,"s4":0},
{"cv":"UG-31","date":"2019-06-12","s1":0,"s2":111,"s3":76,"s4":0},
{"cv":"UG-31","date":"2019-06-13","s1":0,"s2":73,"s3":5,"s4":0},
{"cv":"UG-31","date":"2019-06-14","s1":0,"s2":127,"s3":68,"s4":0},
{"cv":"UG-31","date":"2019-06-15","s1":0,"s2":46,"s3":70,"s4":0},
{"cv":"UG-31","date":"2019-06-16","s1":0,"s2":51,"s3":82,"s4":24},
{"cv":"UG-31","date":"2019-06-17","s1":0,"s2":89,"s3":44,"s4":0},
{"cv":"UG-31","date":"2019-06-18","s1":0,"s2":70,"s3":14,"s4":25},
{"cv":"UG-28","date":"2019-05-11","s1":0,"s2":13,"s3":20,"s4":0},
{"cv":"UG-28","date":"2019-05-12","s1":0,"s2":49,"s3":62,"s4":0},
{"cv":"UG-28","date":"2019-05-13","s1":0,"s2":146,"s3":103,"s4":38},
{"cv":"UG-28","date":"2019-05-14","s1":0,"s2":18,"s3":0,"s4":0},
{"cv":"UG-28","date":"2019-05-15","s1":0,"s2":38,"s3":87,"s4":21},
{"cv":"UG-28","date":"2019-05-16","s1":0,"s2":13,"s3":174,"s4":38},
{"cv":"UG-28","date":"2019-05-17","s1":0,"s2":108,"s3":191,"s4":33},
{"cv":"UG-28","date":"2019-05-19","s1":0,"s2":86,"s3":71,"s4":0},
{"cv":"UG-28","date":"2019-05-22","s1":0,"s2":82,"s3":110,"s4":0},
{"cv":"UG-28","date":"2019-05-24","s1":3,"s2":135,"s3":176,"s4":36},
{"cv":"UG-28","date":"2019-05-25","s1":3,"s2":105,"s3":141,"s4":142},
{"cv":"UG-28","date":"2019-05-26","s1":0,"s2":8,"s3":19,"s4":0},
{"cv":"UG-28","date":"2019-05-27","s1":0,"s2":62,"s3":54,"s4":0},
{"cv":"UG-28","date":"2019-05-28","s1":0,"s2":57,"s3":78,"s4":25},
{"cv":"UG-28","date":"2019-05-29","s1":0,"s2":102,"s3":76,"s4":9},
{"cv":"UG-28","date":"2019-05-30","s1":0,"s2":84,"s3":38,"s4":0},
{"cv":"UG-28","date":"2019-05-31","s1":3,"s2":50,"s3":25,"s4":9},
{"cv":"UG-28","date":"2019-06-01","s1":3,"s2":18,"s3":0,"s4":0},
{"cv":"UG-28","date":"2019-06-02","s1":0,"s2":53,"s3":34,"s4":10},
{"cv":"UG-28","date":"2019-06-04","s1":0,"s2":82,"s3":31,"s4":11},
{"cv":"UG-28","date":"2019-06-05","s1":0,"s2":33,"s3":54,"s4":0},
{"cv":"UG-28","date":"2019-06-07","s1":0,"s2":78,"s3":46,"s4":0},
{"cv":"UG-28","date":"2019-06-09","s1":0,"s2":64,"s3":41,"s4":66},
{"cv":"UG-28","date":"2019-06-10","s1":0,"s2":118,"s3":77,"s4":0},
{"cv":"UG-28","date":"2019-06-11","s1":0,"s2":95,"s3":83,"s4":14},
{"cv":"UG-28","date":"2019-06-12","s1":0,"s2":53,"s3":58,"s4":30},
{"cv":"UG-28","date":"2019-06-13","s1":0,"s2":57,"s3":0,"s4":0},
{"cv":"UG-28","date":"2019-06-14","s1":0,"s2":111,"s3":35,"s4":0},
{"cv":"UG-28","date":"2019-06-15","s1":0,"s2":127,"s3":68,"s4":5},
{"cv":"UG-28","date":"2019-06-16","s1":0,"s2":33,"s3":29,"s4":20},
{"cv":"UG-28","date":"2019-06-17","s1":0,"s2":43,"s3":39,"s4":16},
{"cv":"UG-28","date":"2019-06-18","s1":0,"s2":37,"s3":79,"s4":14},
{"cv":"UG-30","date":"2019-05-11","s1":0,"s2":27,"s3":48,"s4":22},
{"cv":"UG-30","date":"2019-05-12","s1":3,"s2":40,"s3":84,"s4":24},
{"cv":"UG-30","date":"2019-05-13","s1":3,"s2":88,"s3":104,"s4":12},
{"cv":"UG-30","date":"2019-05-14","s1":0,"s2":40,"s3":103,"s4":39},
{"cv":"UG-30","date":"2019-05-15","s1":3,"s2":43,"s3":54,"s4":0},
{"cv":"UG-30","date":"2019-05-16","s1":0,"s2":51,"s3":54,"s4":44},
{"cv":"UG-30","date":"2019-05-17","s1":0,"s2":65,"s3":162,"s4":0},
{"cv":"UG-30","date":"2019-05-19","s1":3,"s2":81,"s3":87,"s4":24},
{"cv":"UG-30","date":"2019-05-22","s1":0,"s2":26,"s3":103,"s4":0},
{"cv":"UG-30","date":"2019-05-24","s1":3,"s2":119,"s3":76,"s4":18},
{"cv":"UG-30","date":"2019-05-25","s1":0,"s2":76,"s3":133,"s4":54},
{"cv":"UG-30","date":"2019-05-26","s1":0,"s2":98,"s3":160,"s4":0},
{"cv":"UG-30","date":"2019-05-27","s1":0,"s2":70,"s3":8,"s4":0},
{"cv":"UG-30","date":"2019-05-28","s1":0,"s2":98,"s3":18,"s4":0},
{"cv":"UG-30","date":"2019-05-29","s1":0,"s2":89,"s3":65,"s4":13},
{"cv":"UG-30","date":"2019-05-30","s1":0,"s2":75,"s3":47,"s4":38},
{"cv":"UG-30","date":"2019-05-31","s1":0,"s2":75,"s3":28,"s4":0},
{"cv":"UG-30","date":"2019-06-01","s1":0,"s2":38,"s3":19,"s4":0},
{"cv":"UG-30","date":"2019-06-02","s1":0,"s2":65,"s3":57,"s4":43},
{"cv":"UG-30","date":"2019-06-04","s1":0,"s2":43,"s3":37,"s4":0},
{"cv":"UG-30","date":"2019-06-05","s1":0,"s2":98,"s3":40,"s4":0},
{"cv":"UG-30","date":"2019-06-07","s1":0,"s2":53,"s3":137,"s4":13},
{"cv":"UG-30","date":"2019-06-09","s1":0,"s2":35,"s3":54,"s4":27},
{"cv":"UG-30","date":"2019-06-10","s1":0,"s2":108,"s3":63,"s4":0},
{"cv":"UG-30","date":"2019-06-11","s1":0,"s2":67,"s3":44,"s4":0},
{"cv":"UG-30","date":"2019-06-12","s1":0,"s2":11,"s3":84,"s4":0},
{"cv":"UG-30","date":"2019-06-13","s1":0,"s2":78,"s3":33,"s4":0},
{"cv":"UG-30","date":"2019-06-14","s1":0,"s2":136,"s3":32,"s4":16},
{"cv":"UG-30","date":"2019-06-15","s1":0,"s2":70,"s3":12,"s4":0},
{"cv":"UG-30","date":"2019-06-16","s1":0,"s2":78,"s3":80,"s4":0},
{"cv":"UG-30","date":"2019-06-17","s1":0,"s2":26,"s3":9,"s4":0},
{"cv":"UG-30","date":"2019-06-18","s1":0,"s2":40,"s3":31,"s4":0},
{"cv":"Canticus","date":"2019-05-11","s1":3,"s2":115,"s3":47,"s4":55},
{"cv":"Canticus","date":"2019-05-12","s1":3,"s2":64,"s3":6,"s4":0},
{"cv":"Canticus","date":"2019-05-13","s1":5,"s2":97,"s3":14,"s4":0},
{"cv":"Canticus","date":"2019-05-14","s1":0,"s2":57,"s3":21,"s4":14},
{"cv":"Canticus","date":"2019-05-15","s1":0,"s2":91,"s3":63,"s4":33},
{"cv":"Canticus","date":"2019-05-16","s1":0,"s2":73,"s3":241,"s4":71},
{"cv":"Canticus","date":"2019-05-17","s1":0,"s2":95,"s3":92,"s4":16},
{"cv":"Canticus","date":"2019-05-19","s1":3,"s2":88,"s3":151,"s4":62},
{"cv":"Canticus","date":"2019-05-22","s1":0,"s2":49,"s3":53,"s4":99},
{"cv":"Canticus","date":"2019-05-24","s1":0,"s2":89,"s3":120,"s4":45},
{"cv":"Canticus","date":"2019-05-25","s1":3,"s2":40,"s3":84,"s4":14},
{"cv":"Canticus","date":"2019-05-26","s1":3,"s2":62,"s3":93,"s4":24},
{"cv":"Canticus","date":"2019-05-27","s1":0,"s2":40,"s3":33,"s4":0},
{"cv":"Canticus","date":"2019-05-28","s1":0,"s2":26,"s3":41,"s4":0},
{"cv":"Canticus","date":"2019-05-29","s1":0,"s2":111,"s3":13,"s4":0},
{"cv":"Canticus","date":"2019-05-30","s1":0,"s2":75,"s3":139,"s4":9},
{"cv":"Canticus","date":"2019-05-31","s1":0,"s2":48,"s3":41,"s4":40},
{"cv":"Canticus","date":"2019-06-01","s1":0,"s2":18,"s3":30,"s4":0},
{"cv":"Canticus","date":"2019-06-02","s1":0,"s2":48,"s3":47,"s4":0},
{"cv":"Canticus","date":"2019-06-04","s1":0,"s2":35,"s3":105,"s4":36},
{"cv":"Canticus","date":"2019-06-05","s1":0,"s2":67,"s3":58,"s4":24},
{"cv":"Canticus","date":"2019-06-07","s1":0,"s2":76,"s3":33,"s4":0},
{"cv":"Canticus","date":"2019-06-09","s1":0,"s2":65,"s3":119,"s4":21},
{"cv":"Canticus","date":"2019-06-10","s1":0,"s2":91,"s3":11,"s4":0},
{"cv":"Canticus","date":"2019-06-11","s1":0,"s2":29,"s3":33,"s4":9},
{"cv":"Canticus","date":"2019-06-12","s1":0,"s2":64,"s3":47,"s4":29},
{"cv":"Canticus","date":"2019-06-13","s1":0,"s2":53,"s3":60,"s4":27},
{"cv":"Canticus","date":"2019-06-14","s1":0,"s2":100,"s3":40,"s4":0},
{"cv":"Canticus","date":"2019-06-15","s1":0,"s2":40,"s3":11,"s4":0},
{"cv":"Canticus","date":"2019-06-16","s1":0,"s2":35,"s3":22,"s4":0},
{"cv":"Canticus","date":"2019-06-17","s1":0,"s2":62,"s3":2,"s4":0},
{"cv":"Canticus","date":"2019-06-18","s1":0,"s2":27,"s3":46,"s4":22}
]},
"facet": {"field": "cv", "type": "nominal", "title": null,
  "sort": ["UG-23","UG-33","UG-34","UG-27","UG-25","Bejo 3025","UG-36","UG-29","UG-24","Millennium","Javelim","UG-32","UG-26","UG-35","UG-31","UG-28","UG-30","Canticus"],
  "header": {"labels": false, "title": null, "labelExpr": "''", "labelFontSize": 1, "labelPadding": 0}},
"columns": 6,
"spacing": {"row": 14.5, "column": 11},
"spec": {
  "width": 251,
  "height": 238,
  "layer": [
    {
      "transform": [{"filter": "datum.total == null"}, {"fold": ["s1", "s2", "s3", "s4"], "as": ["size", "lbs"]}],
      "mark": {"type": "bar", "width": 4.7},
      "encoding": {
        "x": {"field": "date", "type": "temporal",
          "scale": {"type": "utc", "padding": 0, "domain": [{"year": 2019, "month": 5, "date": 8, "hours": 20, "utc": true}, {"year": 2019, "month": 6, "date": 20, "hours": 20, "utc": true}]},
          "axis": {"title": null, "grid": false, "domain": false,
            "values": [{"year": 2019, "month": 5, "date": 15, "hours": 5, "utc": true}, {"year": 2019, "month": 6, "date": 1, "hours": 5, "utc": true}, {"year": 2019, "month": 6, "date": 15, "hours": 5, "utc": true}],
            "labelExpr": "[utcFormat(datum.value, '%b'), utcFormat(datum.value, '%d')]",
            "labelFontSize": 32, "labelLineHeight": 40, "labelColor": "#1A1A1A", "labelFlush": false, "labelOverlap": false, "labelPadding": 3,
            "tickColor": "#333333", "tickSize": 7, "tickWidth": 1.5}},
        "y": {"field": "lbs", "type": "quantitative", "stack": "zero",
          "scale": {"domain": [-26, 753], "nice": false, "zero": false, "padding": 0},
          "axis": {"title": null, "domain": false,
            "values": [0, 50, 100, 150, 200, 250, 300, 350, 400, 450, 500],
            "labelExpr": "datum.value % 100 === 0 ? datum.label : ''",
            "labelOverlap": false, "labelFontSize": 30, "labelColor": "#1A1A1A", "labelPadding": 3,
            "tickColor": "#333333", "tickSize": 7, "tickWidth": 1.5,
            "tickOpacity": {"condition": {"test": "datum.value % 100 !== 0", "value": 0}, "value": 1},
            "gridColor": "#EBEBEB",
            "gridWidth": {"condition": {"test": "datum.value % 100 !== 0", "value": 1}, "value": 2}}},
        "color": {"field": "size", "type": "nominal",
          "scale": {"domain": ["s1", "s2", "s3", "s4"], "range": ["#2E1334", "#20CDD1", "#F69D32", "#7A0A08"]},
          "legend": {"title": null, "orient": "none", "direction": "horizontal", "legendX": 440, "legendY": 895,
            "labelExpr": "datum.label == 's1' ? 'Small' : datum.label == 's2' ? 'Standard' : datum.label == 's3' ? 'Large' : 'Jumbo'",
            "labelFontSize": 36, "labelColor": "#1A1A1A", "symbolType": "M-0.8,-1H0.8V1H-0.8Z", "symbolSize": 2600,
            "symbolStrokeWidth": 0, "symbolOpacity": 1, "labelOffset": 12, "columnPadding": 9}},
        "order": {"field": "size", "sort": "ascending"}
      }
    },
    {
      "transform": [{"filter": "datum.total != null"}],
      "mark": {"type": "text", "align": "right", "baseline": "alphabetic", "fontSize": 30, "color": "#000000"},
      "encoding": {
        "x": {"datum": {"year": 2019, "month": 6, "date": 19, "hours": 3, "utc": true}, "type": "temporal"},
        "y": {"datum": 408, "type": "quantitative"},
        "text": {"field": "total"}
      }
    },
    {
      "transform": [{"filter": "datum.total != null"}],
      "mark": {"type": "rect", "fill": "#D9D9D9", "stroke": "#333333", "strokeWidth": 1.5},
      "encoding": {
        "x": {"datum": {"year": 2019, "month": 5, "date": 8, "hours": 20, "utc": true}, "type": "temporal"},
        "x2": {"datum": {"year": 2019, "month": 6, "date": 20, "hours": 20, "utc": true}},
        "y": {"datum": 540, "type": "quantitative"},
        "y2": {"datum": 753}
      }
    },
    {
      "transform": [{"filter": "datum.total != null"}],
      "mark": {"type": "text", "align": "center", "baseline": "middle", "fontSize": 35, "color": "#1A1A1A"},
      "encoding": {
        "x": {"datum": {"year": 2019, "month": 5, "date": 29, "hours": 20, "utc": true}, "type": "temporal"},
        "y": {"datum": 645, "type": "quantitative"},
        "text": {"field": "cv"}
      }
    }
  ]
},
"config": {
  "font": "Liberation Sans",
  "view": {"stroke": "#333333", "strokeWidth": 1.5},
  "scale": {"continuousPadding": 0},
  "axis": {"labelFont": "Liberation Sans"},
  "legend": {"labelFont": "Liberation Sans"},
  "header": {"labels": false, "labelPadding": 0, "labelFontSize": 1},
  "headerFacet": {"labels": false, "labelPadding": 0, "labelFontSize": 1}
}
}
